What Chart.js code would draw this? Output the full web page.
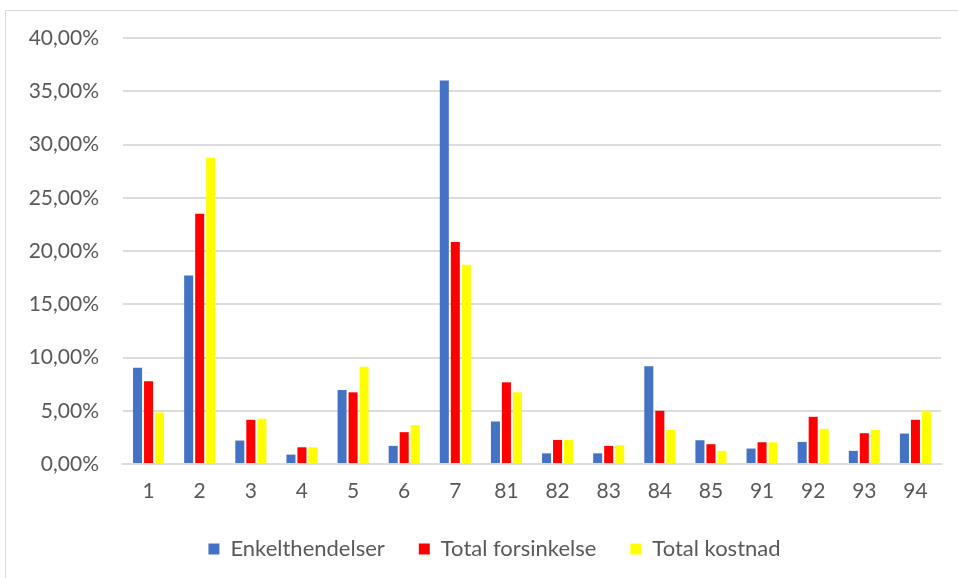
<!DOCTYPE html>
<html>
<head>
<meta charset="utf-8">
<script src="https://cdn.jsdelivr.net/npm/chart.js"></script>
<style>
  body { margin: 0; background: #fff; }
  #frame { position: absolute; left: 5px; top: 10px; width: 980px; height: 600px; border: 1px solid #d9d9d9; }
  #myChart { position: absolute; left: 0; top: 0; }
</style>
</head>
<body>
<div id="frame"></div>
<canvas id="myChart" width="958" height="578"></canvas>
<script>
let categories = ['1','2','3','4','5','6','7','81','82','83','84','85','91','92','93','94'];
let enkelthendelser = [9.03, 17.7, 2.2, 0.88, 6.95, 1.7, 36.0, 3.99, 1.0, 1.0, 9.18, 2.23, 1.45, 2.07, 1.23, 2.86];
let totalForsinkelse = [7.77, 23.5, 4.15, 1.57, 6.73, 2.99, 20.85, 7.67, 2.26, 1.7, 5.0, 1.86, 2.04, 4.43, 2.89, 4.15];
let totalKostnad = [4.84, 28.75, 4.25, 1.57, 9.12, 3.65, 18.7, 6.73, 2.26, 1.76, 3.2, 1.23, 2.04, 3.3, 3.2, 5.0];

const textColor = '#595959';
const gridColor = '#dcdcdc';

// nudge the legend a bit to the right of the plot centre
const legendShift = {
    id: 'legendShift',
    afterLayout(chart) {
        const lg = chart.legend;
        if (!lg) return;
        lg.left += 24;
        lg.right += 24;
    }
};

function renderChart() {
    const bar = (label, values, color) => ({
        label: label,
        data: values,
        backgroundColor: color,
        borderWidth: 0,
        categoryPercentage: 0.646,
        barPercentage: 0.82
    });

    const data = {
      labels: categories,
      datasets: [
        bar('Enkelthendelser', enkelthendelser, '#4472C4'),
        bar('Total forsinkelse', totalForsinkelse, '#FF0000'),
        bar('Total kostnad', totalKostnad, '#FFFF00')
      ]
    };

    const options = {
        responsive: false,
        animation: false,
        layout: { padding: { left: 0, right: 17, top: 38, bottom: 8 } },
        plugins: {
          tooltip: { enabled: false },
          legend: {
            position: 'bottom',
            labels: {
              boxWidth: 11,
              boxHeight: 11,
              padding: 34,
              color: textColor,
              font: { family: 'Lato', size: 22 }
            }
          }
        },
        scales: {
          x: {
            grid: { display: false },
            border: { color: gridColor, width: 2 },
            ticks: { color: textColor, padding: 7, font: { family: 'Lato', size: 21 } },
            afterFit: (scale) => { scale.height = 40; }
          },
          y: {
            min: 0,
            max: 40,
            grid: { color: gridColor, lineWidth: 2, drawTicks: false },
            border: { display: false },
            ticks: {
              stepSize: 5,
              padding: 24,
              color: textColor,
              font: { family: 'Lato', size: 21 },
              callback: (v) => v.toFixed(2).replace('.', ',') + '%'
            },
            afterFit: (scale) => { scale.width = 123; }
          }
        }
      };

    const config = {
      type: 'bar',
      data: data,
      options: options,
      plugins: [legendShift],
    };

    const ctx = document.getElementById('myChart').getContext('2d');
    new Chart(ctx, config);
  }

  renderChart();
</script>
</body>
</html>
